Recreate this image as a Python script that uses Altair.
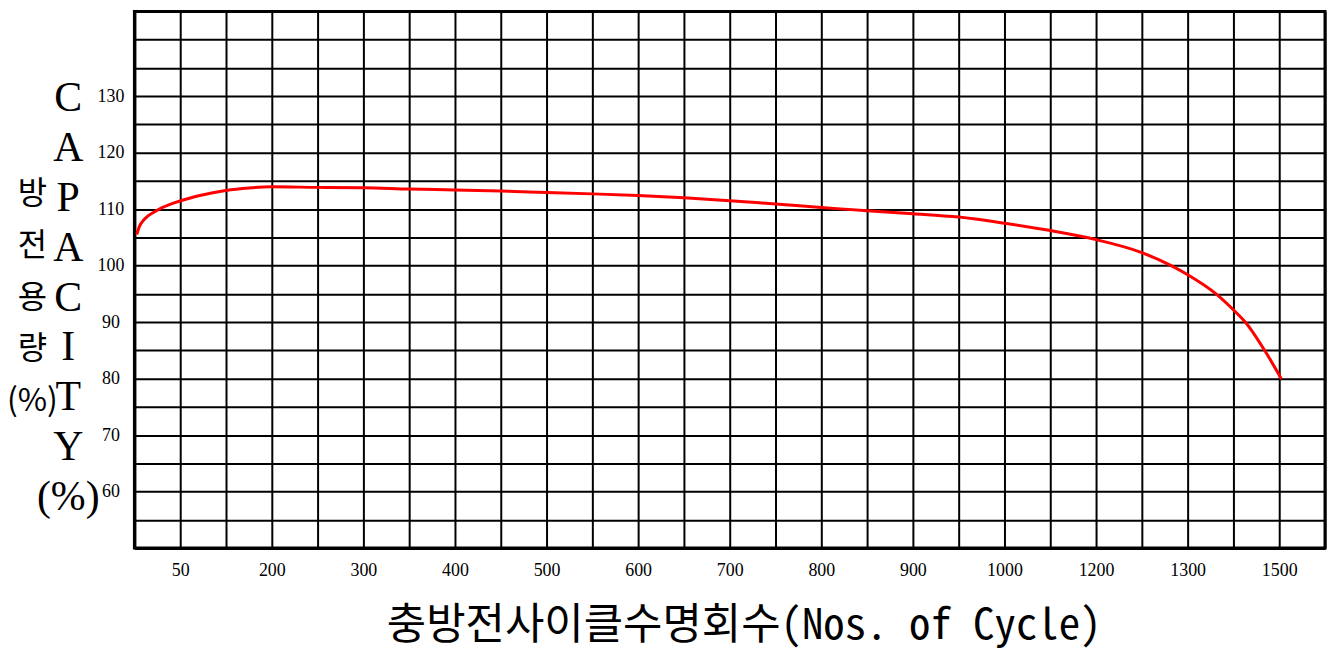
import altair as alt
import pandas as pd

# Curve (x in axis position units, y in %)
cycle_pos = [52.5, 55.4, 60.9, 71.7, 80.8, 98.9, 124, 149.6, 175, 200, 250, 300, 350, 400,
             450, 500, 550, 600, 650, 700, 750, 800, 850, 900, 950, 1000, 1050, 1100,
             1150, 1182, 1201, 1231, 1251, 1264, 1284, 1302.5]
capacity = [105.5, 106.9, 108.2, 109.5, 110.3, 111.4, 112.5, 113.3, 113.75, 113.95, 113.85,
            113.8, 113.55, 113.4, 113.2, 112.95, 112.7, 112.4, 112.0, 111.5, 110.9, 110.3,
            109.7, 109.2, 108.6, 107.5, 106.2, 104.6, 102.3, 100.0, 98.3, 95.0, 92.0, 89.8,
            85.0, 79.9]

# Tick labels as printed on the chart
x_tick_pos = [100, 200, 300, 400, 500, 600, 700, 800, 900, 1000, 1100, 1200, 1300]
x_tick_text = ["50", "200", "300", "400", "500", "600", "700", "800", "900", "1000",
               "1200", "1300", "1500"]
y_tick_pos = [60, 70, 80, 90, 100, 110, 120, 130]
y_tick_text = ["60", "70", "80", "90", "100", "110", "120", "130"]

x_grid = list(range(50, 1351, 50))
y_grid = list(range(50, 146, 5))

y_title_en = ["C", "A", "P", "A", "C", "I", "T", "Y", "(%)"]
y_title_ko = ["방", "전", "용", "량", "(%)"]
x_title = "충방전사이클수명회수(Nos. of Cycle)"


def label_expr(pos, txt):
    expr = "''"
    for p, t in reversed(list(zip(pos, txt))):
        expr = f"datum.value == {p} ? '{t}' : ({expr})"
    return expr


df = pd.DataFrame({"cycle": cycle_pos, "capacity": capacity})

SERIF = "Liberation Serif"
XTITLE_FONT = "Noto Sans Mono CJK KR, Noto Sans CJK KR"
KO_FONT = "Noto Sans CJK KR"

x_enc = alt.X(
    "cycle:Q",
    scale=alt.Scale(domain=[50, 1350], nice=False, zero=False),
    axis=alt.Axis(
        values=x_grid, labelExpr=label_expr(x_tick_pos, x_tick_text),
        grid=True, gridColor="black", gridWidth=2, gridOpacity=1,
        ticks=False, tickSize=0, domainColor="black", domainWidth=3,
        labelFont=SERIF, labelFontSize=18, labelColor="black", labelAngle=0,
        labelPadding=23, labelBaseline="middle", labelOverlap=False, labelFlush=False,
        title=x_title, titleFont=XTITLE_FONT, titleFontSize=43, titleFontWeight="normal",
        titleColor="black", titleX=612, titleY=78, titleAlign="center",
        titleBaseline="middle", titleAnchor="middle",
    ),
)

y_scale = alt.Scale(domain=[50, 145], nice=False, zero=False)

line = alt.Chart(df).mark_line(color="#ff0000", strokeWidth=3, interpolate="monotone").encode(
    x=x_enc,
    y=alt.Y(
        "capacity:Q", scale=y_scale,
        axis=alt.Axis(
            values=y_grid, labelExpr=label_expr(y_tick_pos, y_tick_text),
            grid=True, gridColor="black", gridWidth=2, gridOpacity=1,
            ticks=False, tickSize=0, domainColor="black", domainWidth=3,
            labelFont=SERIF, labelFontSize=18, labelColor="black",
            labelAlign="center", labelPadding=24, labelOverlap=False, labelFlush=False,
            title=y_title_en, titleFont=SERIF, titleFontSize=42, titleFontWeight="normal",
            titleColor="black", titleAngle=0, titleX=-67, titleY=87, titleAlign="center",
            titleBaseline="middle", titleLineHeight=50,
        ),
    ),
)

ghost = alt.Chart(df).mark_line(strokeOpacity=0).encode(
    x=x_enc,
    y=alt.Y(
        "capacity:Q", scale=y_scale,
        axis=alt.Axis(
            orient="left", domain=False, ticks=False, labels=False, grid=False,
            title=y_title_ko, titleFont=KO_FONT, titleFontSize=32,
            titleFontWeight="normal", titleColor="black", titleAngle=0,
            titleX=-103, titleY=183, titleAlign="center", titleBaseline="middle",
            titleLineHeight=52,
        ),
    ),
)

chart = alt.layer(line, ghost).resolve_scale(y="independent").properties(
    width=1196, height=539,
    autosize=alt.AutoSizeParams(type="none"),
    padding={"left": 127, "top": 2, "right": 3, "bottom": 102},
).configure_view(stroke="black", strokeWidth=3)

chart.save("out.html", embed_options={"renderer": "svg", "actions": False})
